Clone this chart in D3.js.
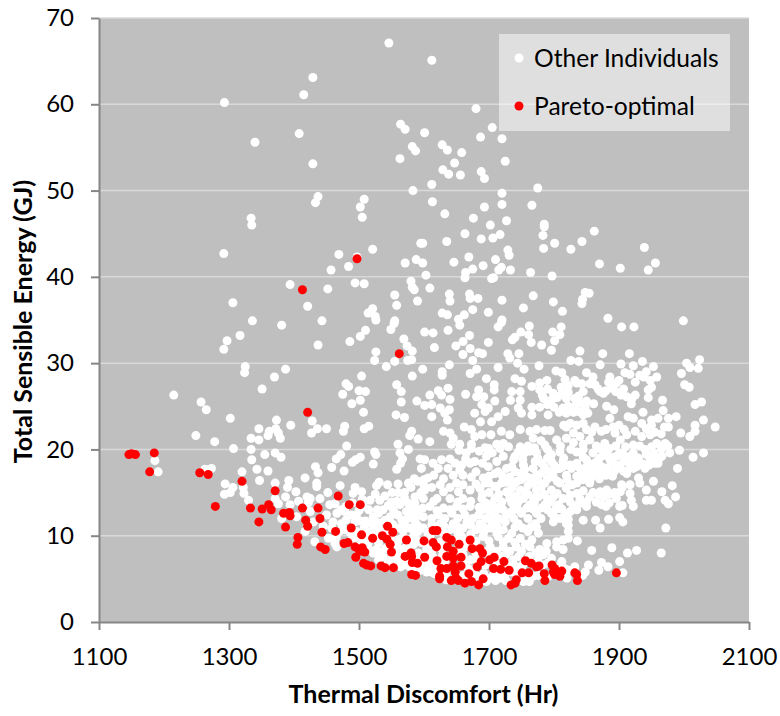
<!DOCTYPE html>
<html><head><meta charset="utf-8">
<script src="https://cdn.jsdelivr.net/npm/d3@7"></script>
<style>html,body{margin:0;padding:0;background:#fff}svg{display:block}text{font-family:Lato,"Open Sans",sans-serif;fill:#000}</style>
</head><body><div id="chart"></div>
<script>
const xTicks=[1100,1300,1500,1700,1900,2100];
const yTicks=[0,10,20,30,40,50,60,70];
const seriesNames=["Other Individuals","Pareto-optimal"];
const xTitle="Thermal Discomfort (Hr)";
const yTitle="Total Sensible Energy (GJ)";
const otherIndividuals=[
[1546,67.1],[1429,63.1],[1415,61.1],[1293,60.2],[1564,57.7],[1571,57.1],[1408,56.6],[1340,55.6],[1582,55.1],[1587,54.6],[1563,53.7],[1429,53.1],[1583,50.0],[1437,49.3],[1433,48.6],[1508,49.0],[1502,48.1],[1505,46.9],[1334,46.8],[1335,46.0],[1521,43.2],[1292,42.7],[1469,42.6],[1497,42.3],[1484,41.2],[1457,40.8],[1571,41.6],[1588,42.0],[1394,39.1],[1452,38.6],[1494,39.3],[1508,39.2],[1580,39.5],[1582,38.8],[1585,38.5],[1555,37.9],[1558,36.7],[1590,37.2],[1306,37.0],[1421,36.6],[1521,36.3],[1514,35.8],[1525,35.4],[1336,34.9],[1443,34.9],[1555,34.9],[1595,43.9],
[1612,65.1],[1680,59.5],[1705,57.3],[1687,56.2],[1720,56.0],[1601,56.7],[1628,55.3],[1636,54.7],[1658,54.4],[1647,53.2],[1725,53.4],[1629,52.4],[1638,51.9],[1656,51.8],[1688,52.2],[1693,51.4],[1612,50.7],[1775,50.3],[1720,49.7],[1720,48.4],[1613,48.7],[1693,48.1],[1766,48.3],[1632,47.3],[1676,46.8],[1727,46.5],[1702,46.0],[1785,46.1],[1785,45.8],[1783,44.8],[1862,45.3],[1663,45.0],[1717,44.9],[1706,44.5],[1688,44.4],[1635,44.1],[1598,43.9],[1843,44.1],[1801,43.9],[1784,43.3],[1826,43.2],[1939,43.4],[1729,43.1],[1731,42.5],[1669,42.3],[1710,42.0],[1646,41.7],[1598,41.6],[1691,41.3],[1870,41.5],[1956,41.6],[1902,41.0],[1945,40.8],[1719,41.1],[1715,40.8],[1733,40.8],[1675,40.9],[1664,40.5],[1663,39.9],[1764,40.5],[1797,40.1],[1603,40.2],[1707,39.9],[1704,39.8],[1609,38.7],[1639,38.0],[1640,37.2],[1670,38.0],[1671,37.5],[1683,37.5],[1675,36.2],[1768,37.8],[1720,37.3],[1799,37.1],[1848,38.2],[1854,38.1],[1844,37.4],[1843,36.9],[1753,36.4],[1813,36.0],[1699,35.9],[1628,35.8],[1636,35.6],[1662,35.6],[1653,35.1],[1883,35.2],[1999,34.9],[1720,35.0],
[1381,34.4],[1317,33.2],[1297,32.6],[1292,31.6],[1437,32.1],[1486,32.5],[1502,33.1],[1510,33.8],[1526,35.0],[1549,33.9],[1554,34.6],[1569,32.8],[1574,32.0],[1582,31.4],[1526,31.3],[1524,30.3],[1542,29.6],[1555,30.2],[1575,30.3],[1581,30.4],[1325,29.6],[1324,28.9],[1387,29.3],[1370,28.4],[1504,28.5],[1582,28.5],[1351,27.0],[1480,27.6],[1484,27.3],[1475,26.4],[1500,26.8],[1510,26.7],[1502,25.7],[1489,25.3],[1558,27.5],[1565,26.7],[1565,25.5],[1589,25.6],[1215,26.3],[1257,25.5],[1265,24.6],[1507,24.3],[1557,24.0],[1570,23.7],[1302,23.6],[1373,23.4],[1428,23.3],[1395,22.8],[1436,22.4],[1450,22.4],[1427,21.9],[1346,22.4],[1362,22.1],[1372,22.4],[1376,21.9],[1360,21.6],[1379,21.3],[1334,21.3],[1346,21.1],[1249,21.6],[1278,20.9],[1478,22.7],[1476,22.1],[1515,22.7],[1508,22.4],[1581,22.1],[1578,21.6],[1591,21.2],[1481,20.4],[1560,20.6],[1576,20.0],[1307,20.1],[1334,20.0],[1355,19.4],[1371,19.6],[1380,19.1],[1335,18.8],[1186,18.7],[1524,19.7],[1526,19.4],[1563,19.6],[1567,18.9],[1472,19.4],[1465,18.9],[1502,19.1],[1495,18.8],[1490,18.5],[1522,18.3],[1564,18.4],[1558,17.7],[1594,18.9],[1458,17.9],[1477,17.5],[1433,18.0],[1437,17.3],[1343,17.7],[1360,17.5],[1263,17.7],[1273,17.8],[1191,17.4],[1320,17.4],[1417,16.7],[1347,16.4],[1392,16.4],[1585,16.6],[1576,16.1],[1531,16.2],[1544,15.9],[1527,15.8],[1435,16.1],[1435,15.7],[1371,16.1],[1390,15.6],[1294,16.0],[1471,15.8],[1494,15.6],[1580,15.6],[1306,15.6],[1302,15.0],[1293,14.8],[1322,15.6],[1323,14.9],[1330,14.1],[1403,15.1],[1452,15.0],[1504,15.1],[1525,14.8],[1551,15.0],[1387,14.5],[1420,14.5],[1425,14.3],[1440,14.3],[1491,14.9],[1517,14.1],[1371,14.3],[1376,13.7],[1394,13.6],[1407,14.0],[1422,13.8],[1455,13.6],[1463,13.7],[1532,14.1],[1550,13.9],[1563,13.6],[1586,13.8],[1478,12.8],[1507,13.4],[1537,13.0],[1553,13.0],[1573,12.8],[1591,13.0],[1425,12.8],[1450,12.4],[1466,12.6],[1496,12.4],[1522,12.2],[1381,12.0],[1404,12.2],[1430,11.6],[1460,11.6],[1473,11.4],[1494,11.6],[1519,11.4],[1510,11.7],[1540,11.8],[1566,11.8],[1586,11.8],[1445,11.1],[1417,10.5],[1478,10.7],[1496,10.5],[1522,10.7],[1561,10.9],[1578,10.9],[1591,10.5],[1432,9.3],[1453,9.7],[1466,8.7],[1463,9.1],[1502,9.5],[1514,9.1],[1527,8.4],[1530,9.9],[1561,9.5],[1563,8.4],[1589,9.5],[1522,8.0],[1537,7.6],[1550,7.4],[1568,6.6],[1591,8.0],[1578,6.4],
[1655,34.4],[1714,34.2],[1719,34.7],[1762,34.3],[1811,34.2],[1798,33.6],[1809,33.3],[1749,33.6],[1761,33.3],[1740,33.0],[1736,32.7],[1765,32.4],[1801,32.6],[1781,32.1],[1796,31.5],[1904,34.2],[1923,34.2],[1637,33.8],[1601,33.6],[1614,33.5],[1670,33.2],[1660,32.5],[1671,31.7],[1649,32.0],[1699,32.4],[1616,31.8],[1660,31.0],[1684,31.2],[1690,31.1],[1729,31.1],[1746,31.1],[1732,30.6],[1840,31.4],[1875,31.1],[1916,31.1],
[1675,30.3],[1744,30.0],[1777,29.7],[1826,30.3],[1838,30.2],[1871,29.8],[1903,29.9],[1922,29.7],[1936,30.2],[1953,29.6],[2004,30.0],[2009,29.5],[2024,30.4],[2022,29.4],[1996,28.8],[1639,29.8],[1598,29.3],[1628,29.0],[1628,28.6],[1671,28.8],[1681,29.3],[1714,29.5],[1754,29.3],[1696,28.2],[1740,28.2],[1750,27.9],[1778,27.7],[1789,28.0],[1803,29.1],[1812,28.9],[1817,28.1],[1832,28.0],[1850,28.9],[1835,27.7],[1860,28.4],[1886,28.4],[1909,28.9],[1917,28.7],[1932,28.6],[1942,29.0],[1958,28.4],[1948,28.0],[2001,27.5],[2008,27.2],
[1708,27.5],[1766,27.3],[1811,27.2],[1845,26.7],[1863,27.5],[1871,26.7],[1876,26.5],[1896,27.7],[1889,27.1],[1907,27.0],[1945,26.9],[1925,26.3],[1912,26.1],[1967,25.7],[2027,25.5],[2017,25.2],[1637,27.1],[1622,26.8],[1609,26.3],[1627,26.3],[1640,25.8],[1664,26.4],[1684,26.9],[1708,26.9],[1681,26.1],[1692,26.1],[1709,25.6],[1735,26.7],[1748,26.7],[1733,25.7],[1748,25.7],[1778,26.9],[1799,26.5],[1784,25.9],[1819,25.9],[1832,25.9],[1861,25.3],[1919,25.3],
[1601,25.1],[1612,25.2],[1625,24.8],[1632,24.2],[1639,24.6],[1612,23.8],[1636,23.4],[1678,24.2],[1689,25.2],[1699,24.8],[1694,24.4],[1687,23.2],[1725,24.4],[1714,23.8],[1704,23.2],[1745,24.8],[1750,24.2],[1766,24.0],[1766,24.9],[1778,24.9],[1791,24.0],[1814,24.8],[1832,25.0],[1848,24.9],[1845,24.0],[1819,24.2],[1881,25.0],[1892,24.6],[1886,23.6],[1937,24.3],[1968,24.5],[1914,23.8],[1960,23.6],[1950,23.4],[1976,23.6],[1988,23.8],[2030,23.4],[2048,22.6],[2017,22.8],[2017,22.1],[2009,21.5],[1995,21.9],[1976,22.6],[1970,22.6],[1935,23.0],[1922,23.6],[1845,23.0],
[1662,22.6],[1673,22.3],[1630,22.1],[1640,21.9],[1678,21.5],[1689,21.7],[1703,21.7],[1719,22.1],[1732,21.7],[1748,22.3],[1763,22.1],[1773,22.3],[1786,22.2],[1794,22.2],[1768,21.3],[1819,22.6],[1863,22.6],[1891,22.6],[1873,22.1],[1894,21.9],[1912,21.7],[1935,21.5],[1948,21.7],[1645,21.3],[1609,20.9],[1642,20.6],[1654,19.9],[1673,20.6],[1673,20.1],[1694,20.2],[1700,20.1],[1722,20.7],[1717,20.1],[1748,20.3],[1786,20.5],[1804,21.1],[1819,21.3],[1840,21.5],[1855,21.1],[1878,20.7],[1902,21.1],[1922,20.5],[1932,20.4],[1958,20.7],[1971,20.7],[1993,19.9],[2030,19.6],[2014,19.1],[1978,19.6],[1990,17.8],[1966,19.2],[1953,19.6],
[1773,19.6],[1763,19.8],[1796,19.4],[1809,19.7],[1835,19.7],[1860,19.6],[1881,19.7],[1901,19.6],[1922,19.6],[1942,19.4],[1696,19.2],[1722,19.2],[1745,19.7],[1775,19.0],[1790,19.0],[1815,19.0],[1845,19.1],[1870,19.0],[1890,19.1],[1910,19.0],[1930,19.0],[1950,18.9],[1962,19.0],
[1601,18.8],[1614,18.4],[1627,18.8],[1637,17.8],[1658,18.2],[1671,18.4],[1678,18.6],[1699,18.0],[1714,17.4],[1735,18.0],[1753,18.2],[1771,18.6],[1781,18.4],[1796,18.6],[1814,18.6],[1835,18.4],[1850,18.8],[1866,18.6],[1886,18.8],[1907,18.6],[1927,18.6],[1948,18.8],[1960,18.4],
[1596,17.8],[1615,17.0],[1645,17.0],[1655,17.6],[1673,16.8],[1691,16.7],[1709,17.2],[1727,17.8],[1748,17.2],[1768,17.8],[1789,17.6],[1809,17.8],[1827,17.8],[1845,17.6],[1860,17.8],[1881,17.8],[1902,17.8],[1922,17.8],[1940,17.8],[1732,16.8],[1758,16.8],[1773,17.0],[1799,16.8],[1819,17.0],[1840,17.0],[1860,17.0],[1881,17.2],[1912,17.2],[1930,16.7],
[1625,15.9],[1660,15.9],[1694,16.1],[1719,16.1],[1743,16.3],[1768,16.1],[1786,16.1],[1809,16.1],[1835,16.1],[1855,16.1],[1904,15.9],[1917,15.9],[1932,16.1],[1953,16.3],[1982,15.8],
[1601,15.3],[1630,15.1],[1653,15.1],[1671,15.3],[1686,15.5],[1709,15.7],[1727,15.1],[1748,15.3],[1773,15.3],[1796,15.3],[1819,15.5],[1871,15.1],[1881,15.3],[1902,15.1],[1917,14.9],[1942,15.3],[1966,15.1],[1987,14.5],
[1599,14.3],[1620,14.3],[1640,14.3],[1660,14.3],[1689,14.3],[1709,14.3],[1732,14.3],[1753,14.3],[1776,14.5],[1799,14.5],[1814,14.3],[1840,14.3],[1855,14.5],[1876,14.5],[1896,14.3],[1919,14.1],[1942,14.1],[1950,14.1],[1971,14.1],[1976,13.7],
[1609,13.4],[1630,13.2],[1650,13.4],[1671,13.4],[1694,13.4],[1717,13.4],[1740,13.4],[1763,13.6],[1786,13.6],[1807,13.6],[1830,13.4],[1850,13.4],[1873,13.6],[1901,13.4],[1922,13.4],
[1599,12.2],[1622,12.4],[1643,12.6],[1663,12.4],[1684,12.4],[1707,12.4],[1727,12.4],[1750,12.6],[1773,12.6],[1796,12.6],[1817,12.4],[1845,11.8],[1864,11.8],[1884,11.9],[1901,12.1],[1906,11.6],[1871,10.9],[1972,10.9],
[1625,11.4],[1645,11.4],[1666,11.6],[1686,11.4],[1704,11.6],[1725,11.6],[1745,11.4],[1771,11.4],[1799,11.6],[1819,11.4],
[1599,10.9],[1640,10.7],[1660,10.9],[1681,10.7],[1702,10.9],[1722,10.7],[1735,10.3],[1760,10.5],[1776,10.3],[1822,10.5],
[1609,9.9],[1658,9.9],[1691,9.9],[1714,9.9],[1730,9.7],[1748,9.7],[1766,9.5],[1789,9.1],[1804,9.3],[1814,9.5],[1822,9.7],[1836,9.4],
[1604,8.4],[1663,8.7],[1702,8.7],[1722,8.7],[1742,8.7],[1763,8.7],[1778,8.4],[1804,8.7],[1814,8.4],[1858,8.3],[1889,8.6],[1927,8.3],[1913,8.0],[1965,8.0],
[1607,6.8],[1632,7.0],[1671,7.2],[1714,7.8],[1737,7.2],[1783,7.8],[1796,7.4],[1812,7.0],[1853,6.6],[1873,6.9],[1901,7.0],[1848,5.8],[1869,6.0],[1883,6.4],[1906,5.7],[1832,6.4],[1822,6.0],
[1604,5.8],[1612,5.8],[1681,5.3],[1702,5.1],[1717,5.1],[1753,4.7],[1768,5.3],[1742,5.6],[1594,6.0],
[1876,19.3],[1896,19.2],[1907,19.4],[1917,19.2],[1888,18.4],[1896,18.2],[1917,18.3],[1937,18.3],[1946,18.2],[1955,18.4],[1870,18.2],[1860,18.3],[1876,17.9],[1893,17.5],[1907,17.5],[1917,17.9],[1927,18.0],[1850,18.0],[1840,17.8],[1825,18.2],[1814,18.0],[1803,17.7],[1794,17.3],[1780,17.2],[1850,17.3],[1868,17.3],[1880,17.0],[1835,16.9],[1820,16.5],[1845,16.5],[1805,16.3],[1790,16.6],[1775,16.4],[1762,16.7],[1750,16.5],[1738,16.0],[1890,16.9],[1870,16.6],[1856,16.6],[1828,15.9],[1781,15.7],[1760,15.8],[1845,15.2],[1860,15.0],[1868,14.8],[1885,14.8],[1893,15.0],[1905,15.6],[1850,13.9],[1865,13.9],[1885,13.8],[1905,13.5],[1880,13.4],
[1690,14.8],[1700,15.0],[1715,14.8],[1730,14.9],[1742,14.6],[1760,14.8],[1768,14.4],[1785,14.8],[1790,14.2],[1805,14.9],[1825,14.7],[1835,14.9],[1695,13.8],[1705,13.7],[1720,13.9],[1735,13.8],[1745,13.9],[1758,13.2],[1770,13.9],[1780,13.2],[1795,13.9],[1812,13.1],[1825,13.9],[1838,13.7],[1690,13.0],[1700,12.9],[1712,13.0],[1722,13.0],[1735,12.8],[1745,13.0],[1768,13.1],[1790,13.0],[1803,13.1],[1825,12.8],[1835,13.0],[1780,12.0],[1800,12.2],[1810,12.0],[1822,11.9],[1822,11.2],[1773,11.0],[1760,12.0],[1738,12.0],[1715,12.0],[1695,12.0],[1675,12.0],[1652,12.0],[1632,12.0],[1612,12.0],[1712,11.2],[1692,11.0],[1672,11.2],[1652,11.0],[1632,11.0],[1612,11.3],[1752,10.9],[1740,11.0],[1764,11.0],[1712,10.3],[1692,10.4],[1672,10.2],[1652,10.4],[1630,10.3],[1606,10.3],[1590,11.2],[1582,12.3],[1598,13.2],[1615,14.0],[1652,13.9],[1672,14.0],[1685,13.3],[1660,13.1],[1640,13.0],[1620,12.9],[1586,14.5],[1570,14.4],[1600,15.8],[1612,15.6],[1640,15.6],[1650,16.1],[1680,16.0],[1700,16.1],[1712,15.7],[1726,16.2],[1735,15.5],[1755,15.0],
[1596,9.2],[1604,9.0],[1626,9.3],[1650,9.6],[1664,9.4],[1680,9.4],[1700,9.4],[1722,9.3],[1740,9.2],[1756,9.0],[1612,8.2],[1628,8.4],[1652,8.4],[1680,8.0],[1696,8.2],[1712,8.2],[1732,8.2],[1750,8.2],[1772,8.0],[1788,8.2],[1600,7.6],[1614,7.5],[1628,7.6],[1660,7.8],[1680,7.2],[1700,7.8],[1726,7.8],[1746,7.6],[1762,7.6],[1775,7.2],[1790,6.8],[1598,7.0],[1610,6.6],[1622,6.4],[1660,6.8],[1668,6.2],[1694,6.6],[1712,6.7],[1730,6.7],[1742,6.4],[1752,6.6],[1782,6.6],[1808,6.4],[1816,6.2],[1596,6.4],[1606,6.0],[1616,5.6],[1634,5.6],[1660,5.4],[1676,5.8],[1692,5.6],[1708,5.6],[1724,5.4],[1736,5.8],[1758,5.2],[1776,5.4],[1790,5.2],[1820,5.1],[1844,5.4],[1634,4.9],[1666,5.0],[1696,4.7],[1710,4.8],[1726,4.8],[1762,4.7],[1628,5.5],
[1480,13.4],[1490,13.8],[1472,13.0],[1488,12.4],[1500,12.9],[1515,13.0],[1528,13.0],[1545,13.5],[1558,14.0],[1575,13.8],[1580,13.0],[1530,12.6],[1548,12.2],[1560,12.4],[1575,12.0],[1592,12.4],[1480,11.8],[1502,11.7],[1530,11.5],[1552,11.3],[1570,11.2],[1584,11.0],[1458,10.9],[1470,10.5],[1486,10.4],[1508,10.9],[1515,10.4],[1530,10.9],[1528,10.3],[1568,10.6],[1585,10.2],[1465,9.8],[1490,9.7],[1512,9.8],[1540,10.4],[1552,9.6],[1568,9.9],[1580,9.6],[1510,8.9],[1530,9.2],[1558,9.0],[1572,8.6],[1584,9.0],[1540,8.5],[1517,8.3],[1532,8.0],[1558,7.8],[1578,7.4],[1590,7.2],[1545,6.9],[1560,7.0],[1572,7.0],[1530,7.2],[1564,6.4],[1585,6.4],
[1782,26.3],[1790,27.0],[1797,25.8],[1805,26.0],[1812,26.4],[1822,26.6],[1838,26.2],[1842,25.4],[1850,25.6],[1790,25.2],[1800,24.9],[1822,25.0],[1838,24.4],[1852,24.2],[1808,24.3],[1830,24.3],[1855,27.6],[1843,27.6],[1822,27.4],[1868,27.0],[1880,26.8],[1895,26.7],[1903,26.3],[1920,25.9],[1884,27.8],[1900,28.0],[1925,27.8],[1938,28.4],[1950,27.2],[1945,26.0],
[1825,23.0],[1815,22.8],[1830,21.9],[1835,22.8],[1850,22.3],[1858,22.0],[1880,22.3],[1900,22.8],[1908,22.3],[1925,22.1],[1942,22.4],[1950,22.8],[1955,22.0],[1965,21.8],[1830,20.8],[1845,20.6],[1865,20.4],[1885,20.1],[1895,20.4],[1910,20.3],[1940,20.0],[1950,20.3],[1965,20.0],[1975,20.4],[1810,20.4],[1826,20.0],[1845,20.0],[1870,20.1],
[1655,20.6],[1665,19.6],[1685,19.8],[1705,19.6],[1712,20.6],[1730,20.3],[1740,19.2],[1755,19.6],[1760,20.4],[1770,20.2],[1790,20.0],[1780,21.0],[1752,18.8],[1738,18.8],[1712,18.6],[1690,18.4],[1664,18.9],[1648,18.4],[1640,18.9],[1622,17.8],[1660,17.0],[1680,17.4],[1700,16.9],[1720,17.0],[1740,17.4],[1755,17.7],[1785,18.0],[1800,18.2],[1630,16.6],[1606,16.7],
[1505,14.2],[1540,14.6],[1570,15.0],[1595,15.0],[1590,16.3],[1560,16.0],[1560,15.0],[1600,16.5]
];
const paretoOptimal=[
[1497,42.1],[1413,38.5],[1562,31.1],[1421,24.3],[1146,19.4],[1150,19.5],[1156,19.4],[1185,19.6],[1178,17.4],[1255,17.3],[1268,17.1],[1320,16.3],[1279,13.4],[1371,15.2],[1333,13.2],[1351,13.1],[1361,13.6],[1365,13.0],[1346,11.6],[1384,12.6],[1393,12.7],[1394,12.3],[1387,11.0],[1413,13.2],[1418,11.8],[1421,11.1],[1406,9.8],[1405,9.0],[1437,13.2],[1440,12.0],[1443,10.4],[1441,8.7],[1448,8.4],[1464,10.5],[1468,14.6],[1485,13.6],[1502,13.6],[1488,10.9],[1477,9.1],[1483,9.2],[1504,10.1],[1494,8.7],[1521,9.7],[1505,8.6],[1501,8.2],[1509,8.1],[1495,7.5],[1507,6.8],[1512,6.6],[1518,6.5],[1534,6.5],[1540,6.3],[1553,6.3],[1536,10.0],[1544,11.1],[1552,10.4],[1543,9.6],[1548,9.0],[1550,8.1],[1573,9.5],[1571,7.6],[1580,8.0],[1581,7.6],[1582,6.9],[1590,6.8],[1581,5.5],[1587,5.4],
[1600,9.4],[1601,7.5],[1614,10.6],[1620,10.6],[1614,9.2],[1619,8.7],[1620,7.1],[1624,5.3],[1624,5.0],[1635,9.8],[1642,9.5],[1636,8.7],[1654,9.0],[1645,8.2],[1635,7.6],[1645,7.4],[1657,7.5],[1626,6.2],[1635,6.2],[1645,6.5],[1657,6.5],[1648,5.8],[1649,5.1],[1642,4.8],[1653,4.8],[1663,4.5],[1673,4.7],[1684,4.3],[1691,5.0],[1669,5.6],[1671,9.5],[1674,8.5],[1686,8.5],[1690,8.0],[1688,7.0],[1682,6.4],[1701,7.2],[1708,7.5],[1707,6.2],[1723,7.0],[1718,6.1],[1731,6.0],[1734,4.3],[1740,4.5],[1742,4.9],[1751,5.7],[1761,5.7],[1756,7.1],[1765,6.8],[1773,6.4],[1777,6.5],[1785,5.6],[1786,4.8],[1797,6.6],[1801,6.2],[1812,5.9],[1799,5.8],[1809,5.3],[1801,5.5],[1832,5.7],[1835,5.5],[1836,4.8],[1896,5.7]
];

const W=780,H=716,L=99,R=749,T=18,B=622,r=4.5;
const svg=d3.select("#chart").append("svg").attr("width",W).attr("height",H);
const x=d3.scaleLinear().domain([1100,2100]).range([L,R]);
const y=d3.scaleLinear().domain([0,70]).range([B,T]);
svg.append("rect").attr("x",L).attr("y",T).attr("width",R-L).attr("height",B-T).attr("fill","#BFBFBF");
svg.append("g").selectAll("line").data(yTicks.filter(d=>d>0)).join("line")
 .attr("x1",L).attr("x2",R).attr("y1",d=>y(d)).attr("y2",d=>y(d)).attr("stroke","#D9D9D9").attr("stroke-width",1.5);
function drawPoints(data,color){
 svg.append("g").selectAll("circle").data(data).join("circle")
  .attr("cx",d=>x(d[0])).attr("cy",d=>y(d[1])).attr("r",r).attr("fill",color);
}
drawPoints(otherIndividuals,"#FFFFFF");
drawPoints(paretoOptimal,"#FF0000");
const gx=svg.append("g").attr("transform",`translate(0,${B})`).call(d3.axisBottom(x).tickValues(xTicks).tickFormat(d3.format("d")).tickSizeInner(8).tickSizeOuter(0).tickPadding(18));
const gy=svg.append("g").attr("transform",`translate(${L},0)`).call(d3.axisLeft(y).tickValues(yTicks).tickSizeInner(8).tickSizeOuter(0).tickPadding(17));
[gx,gy].forEach(g=>{
 g.selectAll("path,line").attr("stroke","#868686").attr("stroke-width",2);
 g.selectAll("text").style("font-size","24px").style("font-family","Lato").attr("fill","#000");
});
svg.append("text").attr("x",423.5).attr("y",703).attr("text-anchor","middle").style("font-size","25px").style("font-weight","700").text(xTitle);
svg.append("text").attr("transform","translate(32,321.5) rotate(-90)").attr("text-anchor","middle").style("font-size","25px").style("font-weight","700").text(yTitle);
const lg=svg.append("g");
lg.append("rect").attr("x",499).attr("y",34).attr("width",231).attr("height",97).attr("fill","#fff").attr("fill-opacity",0.5);
seriesNames.forEach((n,i)=>{
 const ly=58+i*48;
 lg.append("circle").attr("cx",519).attr("cy",ly).attr("r",r).attr("fill",i?"#FF0000":"#FFFFFF");
 lg.append("text").attr("x",534).attr("y",ly+9).style("font-size","24.6px").text(n);
});
</script></body></html>
